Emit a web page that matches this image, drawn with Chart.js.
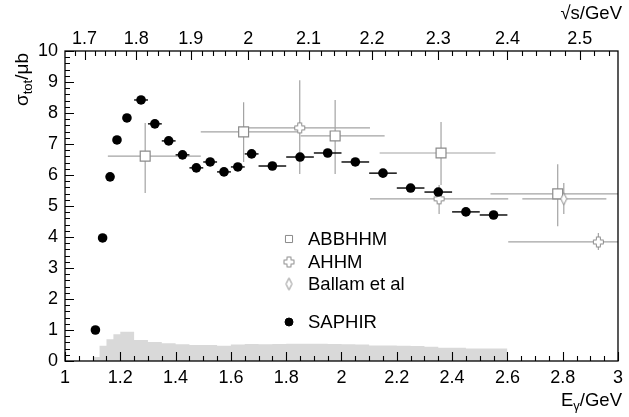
<!DOCTYPE html>
<html lang="en">
<head>
<meta charset="UTF-8">
<title>Total cross section</title>
<script src="https://cdn.jsdelivr.net/npm/chart.js"></script>
<style>
  html, body { margin: 0; padding: 0; background: #fff; overflow: hidden; }
  #wrap { width: 629px; height: 417px; }
</style>
</head>
<body>
<div id="wrap"><canvas id="myChart" width="629" height="417"></canvas></div>
<script>
// SAPHIR points (E_gamma, sigma, half bin width)
const sapE = [1.11, 1.136, 1.163, 1.188, 1.224, 1.275, 1.325, 1.375, 1.425, 1.475, 1.525, 1.575, 1.625, 1.675,
              1.75, 1.85, 1.95, 2.05, 2.15, 2.25, 2.35, 2.45, 2.55];
const sapV = [1.0, 3.97, 5.94, 7.13, 7.84, 8.42, 7.65, 7.1, 6.65, 6.23, 6.42, 6.1, 6.26, 6.68,
              6.29, 6.58, 6.71, 6.42, 6.06, 5.58, 5.45, 4.81, 4.71];
const sapDx = [0.0125, 0.0125, 0.0125, 0.0125, 0.0125, 0.025, 0.025, 0.025, 0.025, 0.025, 0.025, 0.025, 0.025, 0.025,
               0.05, 0.05, 0.05, 0.05, 0.05, 0.05, 0.05, 0.05, 0.05];

// ABBHHM
const abbE   = [1.29, 1.646, 1.977, 2.36, 2.782];
const abbV   = [6.61, 7.39, 7.26, 6.71, 5.39];
const abbXlo = [1.155, 1.491, 1.852, 2.138, 2.539];
const abbXhi = [1.491, 1.841, 2.156, 2.557, 3.05];
const abbYlo = [5.42, 6.42, 6.03, 5.68, 4.35];
const abbYhi = [7.68, 8.35, 8.42, 7.71, 6.35];

// AHHM
const ahE   = [1.849, 2.353, 2.929];
const ahV   = [7.52, 5.23, 3.84];
const ahXlo = [1.665, 2.103, 2.603];
const ahXhi = [2.103, 2.603, 3.1];
const ahYlo = [6.03, 4.74, 3.58];
const ahYhi = [9.06, 5.68, 4.13];

// Ballam et al
const balE   = [2.804];
const balV   = [5.23];
const balXlo = [2.654];
const balXhi = [2.958];
const balYlo = [4.74];
const balYhi = [5.74];

// grey histogram (acceptance), left bin edges + heights, last edge closes it
const histEdges = [1.1, 1.125, 1.15, 1.175, 1.2, 1.25, 1.3, 1.35, 1.4, 1.45, 1.5, 1.55, 1.6, 1.65, 1.7, 1.75,
                   1.8, 1.85, 1.9, 1.95, 2.0, 2.05, 2.1, 2.15, 2.2, 2.25, 2.3, 2.35, 2.4, 2.45, 2.5, 2.55, 2.6];
const histVals  = [0.13, 0.49, 0.70, 0.86, 0.94, 0.68, 0.61, 0.57, 0.54, 0.52, 0.52, 0.49, 0.53, 0.55, 0.54, 0.55,
                   0.56, 0.56, 0.56, 0.55, 0.54, 0.53, 0.50, 0.50, 0.49, 0.48, 0.46, 0.43, 0.43, 0.40, 0.40, 0.40, 0];

// axis ticks
const yTicks = [0, 1, 2, 3, 4, 5, 6, 7, 8, 9, 10];
const sqrtsLabels = [1.7, 1.8, 1.9, 2.0, 2.1, 2.2, 2.3, 2.4, 2.5];

const MP = 0.938272;
function eFromSqrtS(w) { return (w * w - MP * MP) / (2 * MP); }

const FONT = '"Liberation Sans", Arial, Helvetica, sans-serif';
const GREY = '#a3a3a3';
const MARK = '#8a8a8a';
const TXT = 18.5;

// open cross marker
function crossMarker(a, h) {
    const c = document.createElement('canvas');
    const n = 2 * h + 3;
    c.width = n; c.height = n;
    const g = c.getContext('2d');
    const m = n / 2;
    g.beginPath();
    g.moveTo(m - a, m - h); g.lineTo(m + a, m - h); g.lineTo(m + a, m - a); g.lineTo(m + h, m - a);
    g.lineTo(m + h, m + a); g.lineTo(m + a, m + a); g.lineTo(m + a, m + h); g.lineTo(m - a, m + h);
    g.lineTo(m - a, m + a); g.lineTo(m - h, m + a); g.lineTo(m - h, m - a); g.lineTo(m - a, m - a);
    g.closePath();
    g.fillStyle = '#fff'; g.fill();
    g.strokeStyle = MARK; g.lineWidth = 1; g.stroke();
    return c;
}
// thin open diamond
function diamondMarker(w, h) {
    const c = document.createElement('canvas');
    c.width = 2 * w + 3; c.height = 2 * h + 3;
    const g = c.getContext('2d');
    const mx = c.width / 2, my = c.height / 2;
    g.beginPath();
    g.moveTo(mx, my - h); g.lineTo(mx + w, my); g.lineTo(mx, my + h); g.lineTo(mx - w, my);
    g.closePath();
    g.fillStyle = '#fff'; g.fill();
    g.strokeStyle = MARK; g.lineWidth = 1; g.stroke();
    return c;
}
const crossImg = crossMarker(2, 5);
const diamondImg = diamondMarker(3, 6);

function pts(xs, ys) { return xs.map((x, i) => ({ x: x, y: ys[i] })); }

const histData = histEdges.map((x, i) => ({ x: x, y: histVals[i] }));

// error bars drawn with the chart scales, right after the histogram
const errorBars = {
    id: 'errorBars',
    afterDatasetDraw(chart, args) {
        if (args.index !== 0) return;
        const ctx = chart.ctx, xs = chart.scales.x, ys = chart.scales.y, a = chart.chartArea;
        ctx.save();
        ctx.beginPath();
        ctx.rect(a.left, a.top, a.right - a.left, a.bottom - a.top);
        ctx.clip();
        function seg(x1, y1, x2, y2) {
            ctx.beginPath();
            ctx.moveTo(xs.getPixelForValue(x1), ys.getPixelForValue(y1));
            ctx.lineTo(xs.getPixelForValue(x2), ys.getPixelForValue(y2));
            ctx.stroke();
        }
        ctx.strokeStyle = GREY;
        ctx.lineWidth = 1.2;
        const sets = [[abbE, abbV, abbXlo, abbXhi, abbYlo, abbYhi],
                      [ahE, ahV, ahXlo, ahXhi, ahYlo, ahYhi],
                      [balE, balV, balXlo, balXhi, balYlo, balYhi]];
        sets.forEach(s => {
            s[0].forEach((e, i) => {
                seg(s[2][i], s[1][i], s[3][i], s[1][i]);
                seg(e, s[4][i], e, s[5][i]);
            });
        });
        ctx.strokeStyle = '#000';
        ctx.lineWidth = 1.4;
        sapE.forEach((e, i) => seg(e - sapDx[i], sapV[i], e + sapDx[i], sapV[i]));
        ctx.restore();
    }
};

// frame, inward ticks, axis titles and legend
const decorations = {
    id: 'decorations',
    afterDraw(chart) {
        const ctx = chart.ctx, xs = chart.scales.x, ys = chart.scales.y, a = chart.chartArea;
        ctx.save();
        ctx.strokeStyle = '#000';
        ctx.lineWidth = 1.3;
        ctx.strokeRect(a.left, a.top, a.right - a.left, a.bottom - a.top);

        ctx.lineWidth = 1.1;
        ctx.beginPath();
        // bottom ticks
        for (let k = 0; k <= 40; k++) {
            const v = 1 + k * 0.05;
            const px = Math.round(xs.getPixelForValue(v)) + 0.5;
            const len = (k % 4 === 0) ? 9 : 5;
            ctx.moveTo(px, a.bottom); ctx.lineTo(px, a.bottom - len);
        }
        // left ticks
        for (let k = 0; k <= 50; k++) {
            const v = k * 0.2;
            const py = Math.round(ys.getPixelForValue(v)) + 0.5;
            const len = (k % 5 === 0) ? 9 : 5;
            ctx.moveTo(a.left, py); ctx.lineTo(a.left + len, py);
        }
        // top ticks in sqrt(s)
        for (let k = 84; k <= 127; k++) {
            const w = k * 0.02;
            const e = eFromSqrtS(w);
            if (e < 1 || e > 3) continue;
            const px = Math.round(xs.getPixelForValue(e)) + 0.5;
            const len = (k % 5 === 0) ? 9 : 5;
            ctx.moveTo(px, a.top); ctx.lineTo(px, a.top + len);
        }
        ctx.stroke();

        ctx.fillStyle = '#000';
        ctx.textBaseline = 'alphabetic';
        const big = TXT + 'px ' + FONT, small = '13px ' + FONT;
        // x title
        ctx.font = big;
        const wGeV = ctx.measureText('/GeV').width;
        const wE = ctx.measureText('E').width;
        ctx.font = small;
        const wg = ctx.measureText('γ').width;
        let x0 = 622 - wGeV - wg - wE;
        ctx.textAlign = 'left';
        ctx.font = big;
        ctx.fillText('E', x0, 406);
        ctx.font = small;
        ctx.fillText('γ', x0 + wE, 410);
        ctx.font = big;
        ctx.fillText('/GeV', x0 + wE + wg, 406);

        // top title
        ctx.textAlign = 'right';
        ctx.fillText('√s/GeV', 622, 19);

        // y title, rotated
        ctx.save();
        ctx.translate(28, 106);
        ctx.rotate(-Math.PI / 2);
        ctx.textAlign = 'left';
        ctx.font = '19px ' + FONT;
        ctx.fillText('σ', 0, 0);
        const ws = ctx.measureText('σ').width;
        ctx.font = small;
        ctx.fillText('tot', ws, 4);
        const wt = ctx.measureText('tot').width;
        ctx.font = '19px ' + FONT;
        ctx.fillText('/μb', ws + wt, 0);
        ctx.restore();

        // legend
        const lx = 289, tx = 308;
        const rows = [
            { y: 239, text: 'ABBHHM', style: 'rect', r: 5, fill: '#fff', stroke: MARK },
            { y: 262, text: 'AHHM', style: crossImg },
            { y: 284, text: 'Ballam et al', style: diamondImg },
            { y: 322, text: 'SAPHIR', style: 'circle', r: 4, fill: '#000', stroke: '#000' }
        ];
        rows.forEach(row => {
            ctx.fillStyle = row.fill || '#fff';
            ctx.strokeStyle = row.stroke || MARK;
            ctx.lineWidth = 1;
            Chart.helpers.drawPoint(ctx, { pointStyle: row.style, radius: row.r || 5, rotation: 0, borderWidth: 1 }, lx, row.y);
            ctx.fillStyle = '#000';
            ctx.font = big;
            ctx.textAlign = 'left';
            ctx.textBaseline = 'middle';
            ctx.fillText(row.text, tx, row.y + 1);
        });
        ctx.restore();
    }
};

const config = {
    type: 'scatter',
    data: {
        datasets: [
            {
                type: 'line',
                label: 'acceptance',
                data: histData,
                stepped: 'before',
                fill: 'origin',
                backgroundColor: '#d9d9d9',
                borderWidth: 0,
                borderColor: 'rgba(0,0,0,0)',
                pointRadius: 0,
                order: 10
            },
            {
                label: 'ABBHHM',
                data: pts(abbE, abbV),
                pointStyle: 'rect',
                pointRadius: 7,
                backgroundColor: '#fff',
                borderColor: MARK,
                borderWidth: 1.2,
                order: 4
            },
            {
                label: 'AHHM',
                data: pts(ahE, ahV),
                pointStyle: crossImg,
                order: 3
            },
            {
                label: 'Ballam et al',
                data: pts(balE, balV),
                pointStyle: diamondImg,
                order: 2
            },
            {
                label: 'SAPHIR',
                data: pts(sapE, sapV),
                pointStyle: 'circle',
                pointRadius: 4.8,
                backgroundColor: '#000',
                borderColor: '#000',
                borderWidth: 0,
                order: 1
            }
        ]
    },
    options: {
        responsive: false,
        animation: false,
        clip: false,
        layout: { padding: 0 },
        plugins: {
            legend: { display: false },
            tooltip: { enabled: false }
        },
        scales: {
            x: {
                type: 'linear',
                position: 'bottom',
                min: 1, max: 3,
                grid: { display: false, drawTicks: false },
                border: { display: false },
                ticks: {
                    stepSize: 0.2,
                    autoSkip: false,
                    maxRotation: 0,
                    padding: 6,
                    color: '#000',
                    font: { family: FONT, size: 18 },
                    callback: v => parseFloat(v.toFixed(1)).toString()
                },
                afterFit(s) { s.height = 56; }
            },
            x2: {
                type: 'linear',
                position: 'top',
                min: 1, max: 3,
                grid: { display: false, drawTicks: false },
                border: { display: false },
                afterBuildTicks(s) {
                    s.ticks = sqrtsLabels.map(w => ({ value: eFromSqrtS(w) }));
                },
                ticks: {
                    autoSkip: false,
                    maxRotation: 0,
                    padding: 1,
                    color: '#000',
                    font: { family: FONT, size: 18 },
                    callback: (v, i) => String(sqrtsLabels[i])
                },
                afterFit(s) { s.height = 51; }
            },
            y: {
                type: 'linear',
                position: 'left',
                min: 0, max: 10,
                grid: { display: false, drawTicks: false },
                border: { display: false },
                afterBuildTicks(s) {
                    s.ticks = yTicks.map(v => ({ value: v }));
                },
                ticks: {
                    padding: 7,
                    color: '#000',
                    font: { family: FONT, size: 18 }
                },
                afterFit(s) { s.width = 65; }
            }
        }
    },
    plugins: [errorBars, decorations]
};

const myChart = new Chart(document.getElementById('myChart'), config);
</script>
</body>
</html>
